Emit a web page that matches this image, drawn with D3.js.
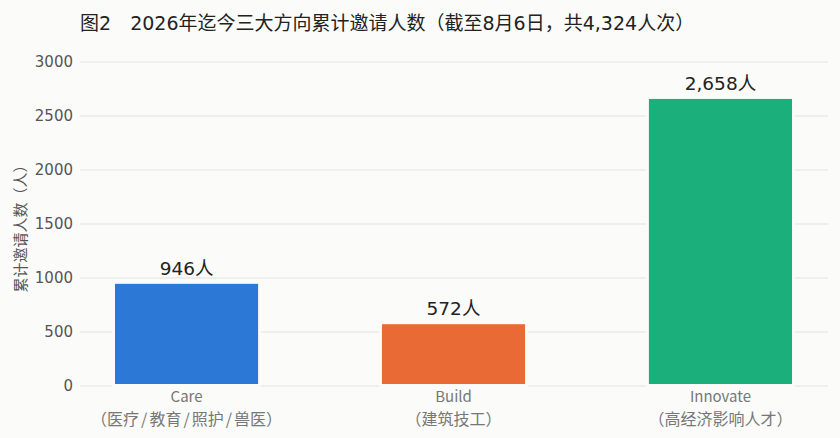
<!DOCTYPE html>
<html>
<head>
<meta charset="utf-8">
<script src="https://cdn.jsdelivr.net/npm/d3@7"></script>
<style>
  body { margin: 0; background: #fbfbf9; }
  svg { display: block; font-family: "Noto Sans CJK SC", "Noto Sans", sans-serif; }
  .num { font-family: "DejaVu Sans", "Noto Sans CJK SC", sans-serif; }
</style>
</head>
<body>
<script>
var width = 840;
var height = 438;

// data
var categories = ["Care", "Build", "Innovate"];
var subLabels = ["（医疗/教育/照护/兽医）", "（建筑技工）", "（高经济影响人才）"];
var values = [946, 572, 2658];
var valueLabels = ["946", "572", "2,658"];
var colors = ["#2b78d6", "#ea6a35", "#1bb07b"];
var yTicks = [0, 500, 1000, 1500, 2000, 2500, 3000];

var titleParts = [["图", "cjk"], ["2", "num"], ["　", "cjk"], ["2026", "num"], ["年迄今三大方向累计邀请人数（截至", "cjk"],
  ["8", "num"], ["月", "cjk"], ["6", "num"], ["日，共", "cjk"], ["4,324", "num"], ["人次）", "cjk"]];
var yTitle = "累计邀请人数（人）";

var svg = d3.select("body").append("svg")
    .attr("width", width)
    .attr("height", height);

svg.append("rect")
    .attr("width", width)
    .attr("height", height)
    .attr("fill", "#fbfbf9");

var y = d3.scaleLinear().domain([0, 3000]).range([386, 62]);

var x = d3.scaleBand()
    .domain(categories)
    .range([115, 792])
    .paddingInner(0.464)
    .paddingOuter(0);

// gridlines
svg.append("g")
  .selectAll("line")
  .data(yTicks)
  .enter().append("line")
    .attr("x1", 80)
    .attr("x2", 828)
    .attr("y1", function(d) { return y(d); })
    .attr("y2", function(d) { return y(d); })
    .attr("stroke", "#e2e2e0")
    .attr("stroke-width", 1.2);

// y tick labels
svg.append("g")
  .selectAll("text")
  .data(yTicks)
  .enter().append("text")
    .attr("class", "num")
    .attr("x", 73)
    .attr("y", function(d) { return y(d); })
    .attr("dy", "0.36em")
    .attr("text-anchor", "end")
    .attr("font-size", 15)
    .attr("fill", "#555")
    .text(function(d) { return d; });

// bars, with a background-coloured halo that breaks the gridlines
svg.append("g")
  .selectAll("rect")
  .data(values)
  .enter().append("rect")
    .attr("x", function(d, i) { return x(categories[i]); })
    .attr("width", x.bandwidth())
    .attr("y", function(d) { return y(d); })
    .attr("height", function(d) { return y(0) - y(d) - 2; })
    .attr("fill", function(d, i) { return colors[i]; })
    .attr("stroke", "#fbfbf9")
    .attr("stroke-width", 6);

svg.append("g")
  .selectAll("rect")
  .data(values)
  .enter().append("rect")
    .attr("x", function(d, i) { return x(categories[i]); })
    .attr("width", x.bandwidth())
    .attr("y", function(d) { return y(d); })
    .attr("height", function(d) { return y(0) - y(d) - 2; })
    .attr("fill", function(d, i) { return colors[i]; });

// value labels
var vl = svg.append("g")
  .selectAll("text")
  .data(values)
  .enter().append("text")
    .attr("x", function(d, i) { return x(categories[i]) + x.bandwidth() / 2; })
    .attr("y", function(d) { return y(d) - 9; })
    .attr("text-anchor", "middle")
    .attr("font-size", 18.5)
    .attr("fill", "#222");
vl.append("tspan").attr("class", "num").text(function(d, i) { return valueLabels[i]; });
vl.append("tspan").text("人");

// x labels
var xl = svg.append("g")
  .selectAll("g")
  .data(categories)
  .enter().append("g")
    .attr("transform", function(d) { return "translate(" + (x(d) + x.bandwidth() / 2) + ",0)"; });

xl.append("text")
    .attr("y", 401.5)
    .attr("text-anchor", "middle")
    .attr("font-size", 15)
    .attr("fill", "#777")
    .text(function(d) { return d; });

// sub labels: slashes get a little extra room, as in the reference
xl.append("text")
    .attr("y", 425)
    .attr("text-anchor", "middle")
    .attr("font-size", 16)
    .attr("fill", "#777")
  .selectAll("tspan")
  .data(function(d, i) {
    var parts = subLabels[i].split("/");
    var out = [];
    parts.forEach(function(p, j) {
      if (j > 0) out.push({t: "/", dx: 2});
      out.push({t: p, dx: j > 0 ? 2 : 0});
    });
    return out;
  })
  .enter().append("tspan")
    .attr("dx", function(d) { return d.dx; })
    .text(function(d) { return d.t; });

// y axis title
svg.append("text")
    .attr("transform", "translate(26," + 225 + ") rotate(-90)")
    .attr("text-anchor", "middle")
    .attr("font-size", 15)
    .attr("fill", "#555")
    .text(yTitle);

// title
svg.append("text")
    .attr("x", 80)
    .attr("y", 30)
    .attr("font-size", 19)
    .attr("fill", "#222")
  .selectAll("tspan")
  .data(titleParts)
  .enter().append("tspan")
    .attr("class", function(d) { return d[1] === "num" ? "num" : null; })
    .text(function(d) { return d[0]; });
</script>
</body>
</html>
